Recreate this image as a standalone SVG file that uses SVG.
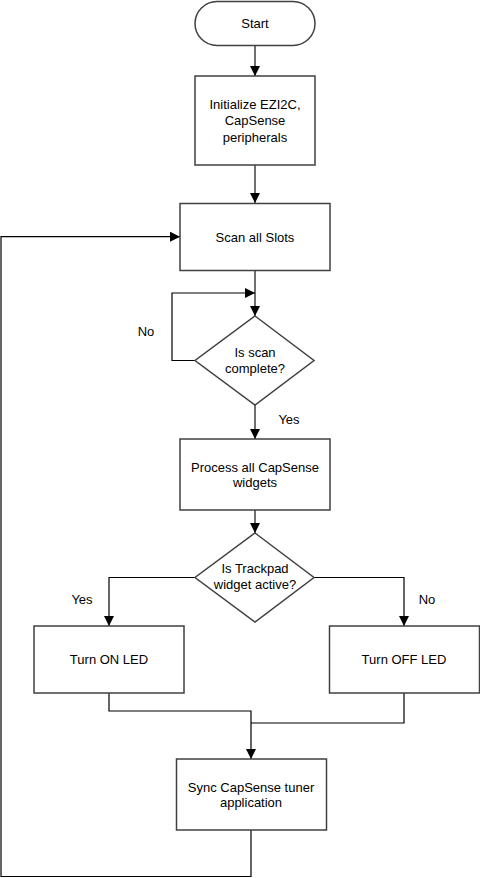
<svg xmlns="http://www.w3.org/2000/svg" width="480" height="878" viewBox="0 0 480 878">
<defs>
<style>
.box{fill:#fff;stroke:#404040;stroke-width:1.5}
.t{font-family:"Liberation Sans",Arial,sans-serif;font-size:13px;fill:#000;text-anchor:middle}
.cg{fill:none;stroke:#707070;stroke-width:2}
.ck{fill:none;stroke:#000;stroke-width:1.2}
</style>
<marker id="ah" viewBox="0 0 10 10" refX="10" refY="5" markerWidth="10" markerHeight="10" markerUnits="userSpaceOnUse" orient="auto">
<path d="M0,0 L10,5 L0,10 Z" fill="#000"/>
</marker>
</defs>
<rect width="480" height="878" fill="#fff"/>
<g id="connectors">
<path class="cg" d="M255,46 V76" marker-end="url(#ah)"/>
<path class="cg" d="M255,165 V203" marker-end="url(#ah)"/>
<path class="cg" d="M255,270 V316" marker-end="url(#ah)"/>
<path class="ck" d="M195,360.5 H172 V293 H255" marker-end="url(#ah)"/>
<path class="cg" d="M255,405 V439" marker-end="url(#ah)"/>
<path class="cg" d="M255,510 V533" marker-end="url(#ah)"/>
<path class="ck" d="M195,577.5 H109 V626" marker-end="url(#ah)"/>
<path class="ck" d="M314,577.5 H404 V626" marker-end="url(#ah)"/>
<path class="ck" d="M109,693 V711 H251 V759" marker-end="url(#ah)"/>
<path class="ck" d="M404,693 V723 H251"/>
<path class="ck" d="M251,830 V876.5 H1 V236.7 H180" marker-end="url(#ah)"/>
</g>
<g id="start">
<rect class="box" x="195" y="1.5" width="120" height="44" rx="22" ry="22"/>
<text class="t" x="255" y="28">Start</text>
</g>
<g id="init">
<rect class="box" x="195" y="76" width="120" height="89"/>
<text class="t" x="255" y="108.5">Initialize EZI2C,</text>
<text class="t" x="255" y="125">CapSense</text>
<text class="t" x="255" y="141.5">peripherals</text>
</g>
<g id="scan">
<rect class="box" x="180" y="203.5" width="150" height="67"/>
<text class="t" x="255" y="241.5">Scan all Slots</text>
</g>
<g id="scandone">
<polygon class="box" points="255,316 314,360.5 255,405 195,360.5"/>
<text class="t" x="255" y="356.5">Is scan</text>
<text class="t" x="255" y="372.5">complete?</text>
</g>
<text class="t" x="146" y="335.5">No</text>
<text class="t" x="289" y="424">Yes</text>
<g id="process">
<rect class="box" x="180" y="439" width="150" height="71"/>
<text class="t" x="255" y="471.5">Process all CapSense</text>
<text class="t" x="255" y="486.5">widgets</text>
</g>
<g id="trackpad">
<polygon class="box" points="255,533 314,577.5 255,622 195,577.5"/>
<text class="t" x="255" y="573">Is Trackpad</text>
<text class="t" x="255" y="589">widget active?</text>
</g>
<text class="t" x="82" y="604">Yes</text>
<text class="t" x="427" y="604">No</text>
<g id="ledon">
<rect class="box" x="34" y="626" width="150" height="67"/>
<text class="t" x="109" y="664">Turn ON LED</text>
</g>
<g id="ledoff">
<rect class="box" x="329.5" y="626" width="150" height="67"/>
<text class="t" x="404" y="664">Turn OFF LED</text>
</g>
<g id="sync">
<rect class="box" x="176.5" y="759" width="150" height="71"/>
<text class="t" x="251" y="791.5">Sync CapSense tuner</text>
<text class="t" x="251" y="806.5">application</text>
</g>
</svg>
